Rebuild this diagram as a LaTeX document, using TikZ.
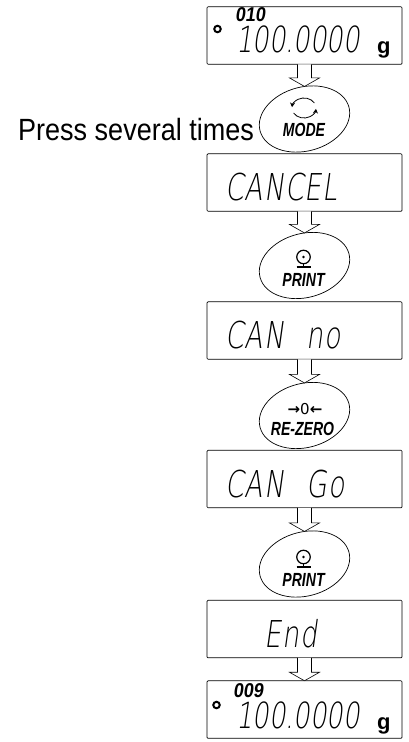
\documentclass[tikz,border=0pt]{standalone}
\usepackage{fontspec}
\setmainfont{Liberation Sans}
\newfontfamily\pressfont[FakeStretch=0.88]{Liberation Sans}
\newfontfamily\segfont[FakeSlant=0.14,FakeStretch=0.72,LetterSpace=3]{DejaVu Sans ExtraLight}
\newfontfamily\numfont[FakeSlant=0.14,FakeStretch=0.72]{DejaVu Sans ExtraLight}
\newfontfamily\smallseg[FakeSlant=0.14,FakeStretch=0.9]{Liberation Sans Bold}
\newfontfamily\keyfont[FakeStretch=0.74]{Liberation Sans Bold Italic}
\newfontfamily\arrowfont{DejaVu Sans Bold}
\newfontfamily\zerofont{DejaVu Sans}
\usetikzlibrary{positioning}
\usetikzlibrary{arrows.meta}
\usetikzlibrary{shapes,calc}
\tikzset{
  disp box/.style={draw,rounded corners=1pt,minimum width=195pt,minimum height=57.5pt,inner sep=0pt,outer sep=0pt,line width=.7pt},
  key oval/.style={draw,ellipse,rotate=15,minimum width=92pt,minimum height=64pt,inner sep=0pt,outer sep=0pt,line width=.7pt},
  key text/.style={font=\fontsize{19}{19}\keyfont,inner sep=0pt},
  seg text/.style={font=\fontsize{37}{37}\segfont,inner sep=0pt,anchor=base west},
  num text/.style={font=\fontsize{36}{36}\numfont,inner sep=0pt,anchor=base west},
  small seg/.style={font=\fontsize{20}{20}\smallseg,inner sep=0pt,anchor=base west},
  unit text/.style={font=\fontsize{22}{22}\selectfont\bfseries,inner sep=0pt,anchor=base west},
  lamp/.style={draw,circle,line width=2pt,minimum size=6.5pt,inner sep=0pt},
  block arrow/.style={line width=.6pt,fill=white,to path={
    ($(\tikztostart)+(-7,0)$) -- ($(\tikztotarget)+(-7,-8.5)$) -- ($(\tikztotarget)+(-15,-8.5)$)
    -- (\tikztotarget) -- ($(\tikztotarget)+(15,-8.5)$) -- ($(\tikztotarget)+(7,-8.5)$)
    -- ($(\tikztostart)+(7,0)$)}},
}
\begin{document}
\begin{tikzpicture}[x=1pt,y=-1pt]
    \useasboundingbox (0,0) rectangle (408,742);

    % displays
    \node[disp box] (weigh1) at (304.5,35.5) {};
    \node[disp box] (cancel) [below = 89.5pt of weigh1] {};
    \node[disp box] (canno) [below = 90.5pt of cancel] {};
    \node[disp box] (cango) [below = 91pt of canno] {};
    \node[disp box] (endbox) [below = 92.5pt of cango] {};
    \node[disp box] (weigh2) [below = 23pt of endbox] {};

    % keys
    \node[key oval] (mode) at ($(weigh1)+(0,83.5)$) {};
    \node[key oval] (print1) at ($(cancel)+(0,83)$) {};
    \node[key oval] (rezero) at ($(canno)+(0,85)$) {};
    \node[key oval] (print2) at ($(cango)+(0,85)$) {};

    % arrows
    \path[draw,block arrow]
    (weigh1.south -| mode) to (mode.75)
    (cancel.south -| print1) to (print1.75)
    (canno.south -| rezero) to (rezero.75)
    (cango.south -| print2) to (print2.75)
    (endbox.south -| print2) to (weigh2.north -| print2);

    % display texts
    \node[num text] (txt1) at (236,52) {100.0000};
    \node[small seg] (cnt1) at (235,21.5) {010};
    \node[unit text] (unit1) at (377,53) {g};
    \node[lamp] (lamp1) at (217.5,29) {};
    \node[seg text] (txt2) at (225,200) {CANCEL};
    \node[seg text] (txt3) at (225,348) {CAN\hspace{13pt} no};
    \node[seg text] (txt4) at (225,497) {CAN\hspace{13pt} Go};
    \node[seg text] (txt5) at (264,647) {End};
    \node[num text] (txt6) at (236,728) {100.0000};
    \node[small seg] (cnt2) at (233,697) {009};
    \node[unit text] (unit2) at (377,729) {g};
    \node[lamp] (lamp2) at (216.5,705) {};

    % key labels
    \node[key text] (lbl1) at (304,130) {MODE};
    \node[key text] (lbl2) at (303.5,280) {PRINT};
    \node[key text] (lbl3) at (302.5,429) {RE-ZERO};
    \node[key text] (lbl4) at (303.5,580) {PRINT};
    \node[font=\fontsize{15}{15}\arrowfont,inner sep=0pt] (zero) at (305,409) {→{\zerofont 0}←};

    % key icons
    \draw[line width=.8pt,-{Stealth[length=4.5pt,width=5pt]}] (304,108) ++(-30:12 and 10) arc[start angle=-30,end angle=-175,x radius=12,y radius=10];
    \draw[line width=.8pt,-{Stealth[length=4.5pt,width=5pt]}] (304,108) ++(150:12 and 10) arc[start angle=150,end angle=5,x radius=12,y radius=10];
    \foreach \name/\ypos in {icon1/257,icon2/557} {
      \node[draw,circle,line width=1.2pt,minimum size=13.5pt,inner sep=0pt] (\name) at (303.5,\ypos) {};
      \fill (\name) circle (1.3pt);
      \draw[line width=1.8pt] ($(\name.south)+(-7,3)$) -- ($(\name.south)+(7,3)$);
      \draw[line width=1.2pt] (\name.south) -- ++(0,3);
    }

    \node[font=\fontsize{30.7}{30.7}\pressfont,inner sep=0pt,anchor=base west] (press) at (18,140) {Press several times};
\end{tikzpicture}
\end{document}
